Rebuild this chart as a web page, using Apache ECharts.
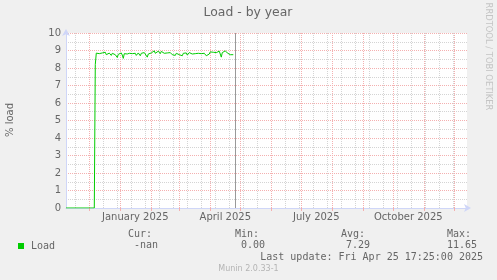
<!DOCTYPE html>
<html><head><meta charset="utf-8">
<script src="https://cdn.jsdelivr.net/npm/echarts@6/dist/echarts.min.js"></script>
<style>html,body{margin:0;padding:0;background:#f0f0f0}#c{width:497px;height:280px}</style>
</head><body><div id="c"></div>
<script>
const chartTitle = 'Load - by year';
const yAxisName = '% load';
const seriesName = 'Load';
const xStart = '2024-11-07T17:00:00Z';
const xEnd = '2025-12-13T17:00:00Z';
const labelDates = ['2025-01-16', '2025-04-16', '2025-07-16', '2025-10-16'];
const labelTexts = ['January 2025', 'April 2025', 'July 2025', 'October 2025'];
const monthLines = ['2024-12-01','2025-01-01','2025-02-01','2025-03-01','2025-04-01','2025-05-01','2025-06-01','2025-07-01','2025-08-01','2025-09-01','2025-10-01','2025-11-01','2025-12-01'];
const minorLines = ['2024-11-17','2024-12-15','2024-12-29','2025-01-12','2025-01-26','2025-02-09','2025-02-23','2025-03-09','2025-03-23','2025-04-06','2025-04-20','2025-05-04','2025-05-18','2025-06-15','2025-06-29','2025-07-13','2025-07-27','2025-08-10','2025-08-24','2025-09-07','2025-09-21','2025-10-05','2025-10-19','2025-11-02','2025-11-16','2025-11-30'];
const nowLine = '2025-04-25T17:25:00Z';
const zeroDates = ['2024-11-07T17:00:00Z', '2024-12-06'];
const zeroValues = [0, 0];
const loadStart = '2024-12-07';
const loadValues = [
  8.20,
  8.85,8.80,8.90,8.82,8.88,8.78,8.86,8.80,8.84,8.90,8.76,8.70,8.82,8.85,8.80,8.72,8.84,8.88,8.80,8.76,8.82,8.60,8.78,8.84,
  8.80,8.86,8.74,8.55,8.82,8.78,8.85,8.80,8.70,8.84,8.88,8.76,8.82,8.80,8.78,8.84,8.72,8.80,8.86,8.82,8.70,8.84,8.80,8.76,8.88,8.82,8.78,8.62,8.80,8.84,8.90,
  8.86,8.80,8.94,8.98,8.84,8.78,8.92,8.96,8.88,8.82,8.95,8.86,9.00,8.84,8.90,8.78,8.86,8.82,8.80,8.88,8.84,8.76,8.86,8.82,8.72,8.84,8.88,8.80,
  8.76,8.86,8.82,8.70,8.84,8.88,8.80,8.86,8.74,8.82,8.88,8.78,8.84,8.80,8.86,8.76,8.82,8.88,8.80,8.84,8.78,8.86,8.82,8.80,8.88,8.84,8.78,8.70,8.66,8.72,8.80,
  8.92,8.98,8.86,8.90,8.84,8.94,8.88,8.80,8.90,8.96,8.86,8.62,8.88,8.92,8.84,8.98,9.00,8.86,8.80,8.92,8.76,8.70,8.78,8.76
];
const statNames = ['Cur:', 'Min:', 'Avg:', 'Max:'];
const statValues = ['-nan', '0.00', '7.29', '11.65'];
const lastUpdate = 'Last update: Fri Apr 25 17:25:00 2025';
const watermark = 'RRDTOOL / TOBI OETIKER';
const version = 'Munin 2.0.33-1';

const T = s => Date.parse(s);
const DAY = 86400000;
const data = [];
zeroDates.forEach((d, i) => data.push([T(d), zeroValues[i]]));
loadValues.forEach((v, i) => data.push([T(loadStart) + i * DAY, v]));

const labelVals = labelDates.map(T);
const RED = '#f4b0b0', GRAY = '#d4d4d4', AXIS = '#CFD6F8', FONT = '#666666';
const mono = '10px "DejaVu Sans Mono"';

const statX = [128, 235, 341, 447];
const valX = [134, 241, 346, 447];
const graphics = [];
function txt(x, y, s, font, fill, align, rot) {
  const g = {type:'text', x: x, y: y, style:{text:s, fill:fill, font:font, align:align, verticalAlign:'middle', textAlign:align, textVerticalAlign:'middle'}};
  if (rot) g.rotation = rot;
  graphics.push(g);
}
statNames.forEach((s, i) => txt(statX[i], 234, s, mono, FONT, 'left'));
statValues.forEach((s, i) => txt(valX[i], 245.5, s, mono, FONT, 'left'));
txt(483, 257.5, lastUpdate, mono, FONT, 'right');
txt(248.5, 269, version, '8px "DejaVu Sans"', '#b4b4b4', 'center');
txt(488, 56.5, watermark, '8.4px "DejaVu Sans"', '#c4c4c4', 'center', -Math.PI/2);
txt(10, 120, yAxisName, '10px "DejaVu Sans"', FONT, 'center', Math.PI/2);
txt(248, 13, chartTitle, '12.4px "DejaVu Sans"', FONT, 'center');

const chart = echarts.init(document.getElementById('c'), null, {renderer:'canvas'});
chart.setOption({
  animation: false,
  backgroundColor: '#f0f0f0',
  textStyle: {fontFamily: 'DejaVu Sans'},
  grid: {left: 66, right: 30, top: 33, bottom: 72, show: true, backgroundColor: '#ffffff', borderWidth: 0},
  legend: {
    data: [seriesName], left: 13, top: 236, icon: 'rect', itemWidth: 6, itemHeight: 6,
    textStyle: {fontFamily: 'DejaVu Sans Mono', fontSize: 10, color: FONT, padding: [0,0,0,2]},
    selectedMode: false
  },
  xAxis: {
    type: 'value', min: T(xStart), max: T(xEnd),
    axisLine: {show: true, lineStyle: {color: AXIS, width: 1}, symbol: ['none', 'arrow'], symbolSize: [6, 7], symbolOffset: [0, 4]},
    axisTick: {show: true, customValues: monthLines.map(T), length: 3, inside: false, lineStyle: {color: RED}},
    axisLabel: {
      customValues: labelVals, margin: 4, color: FONT, fontSize: 10, fontFamily: 'DejaVu Sans',
      formatter: v => { const i = labelVals.indexOf(v); return i >= 0 ? labelTexts[i] : ''; }
    },
    splitLine: {show: false}
  },
  yAxis: {
    type: 'value', min: 0, max: 10, interval: 1,
    axisLine: {show: true, lineStyle: {color: AXIS, width: 1}, symbol: ['none', 'arrow'], symbolSize: [6, 7], symbolOffset: [0, 4]},
    axisTick: {show: false},
    axisLabel: {margin: 5, color: FONT, fontSize: 10, fontFamily: 'DejaVu Sans'},
    splitLine: {show: true, lineStyle: {color: RED, type: [1, 1], width: 1}},
    minorTick: {show: false, splitNumber: 2},
    minorSplitLine: {show: true, lineStyle: {color: GRAY, type: [1, 1], width: 1}}
  },
  graphic: graphics,
  series: [
    {
      type: 'line', data: [], silent: true, z: 1,
      markLine: {silent: true, symbol: 'none', label: {show: false}, animation: false,
        lineStyle: {color: GRAY, type: [1, 1], width: 1},
        data: minorLines.map(d => ({xAxis: T(d)}))}
    },
    {
      type: 'line', data: [], silent: true, z: 2,
      markLine: {silent: true, symbol: 'none', label: {show: false}, animation: false,
        lineStyle: {color: RED, type: [1, 1], width: 1},
        data: monthLines.map(d => ({xAxis: T(d)}))}
    },
    {
      type: 'line', data: [], silent: true, z: 3,
      markLine: {silent: true, symbol: 'none', label: {show: false}, animation: false,
        lineStyle: {color: '#999999', type: 'solid', width: 1},
        data: [{xAxis: T(nowLine)}]}
    },
    {
      name: seriesName, type: 'line', data: data, z: 5, showSymbol: false, symbol: 'none',
      itemStyle: {color: '#00cc00'}, lineStyle: {color: '#00cc00', width: 1}
    }
  ]
});
</script></body></html>
